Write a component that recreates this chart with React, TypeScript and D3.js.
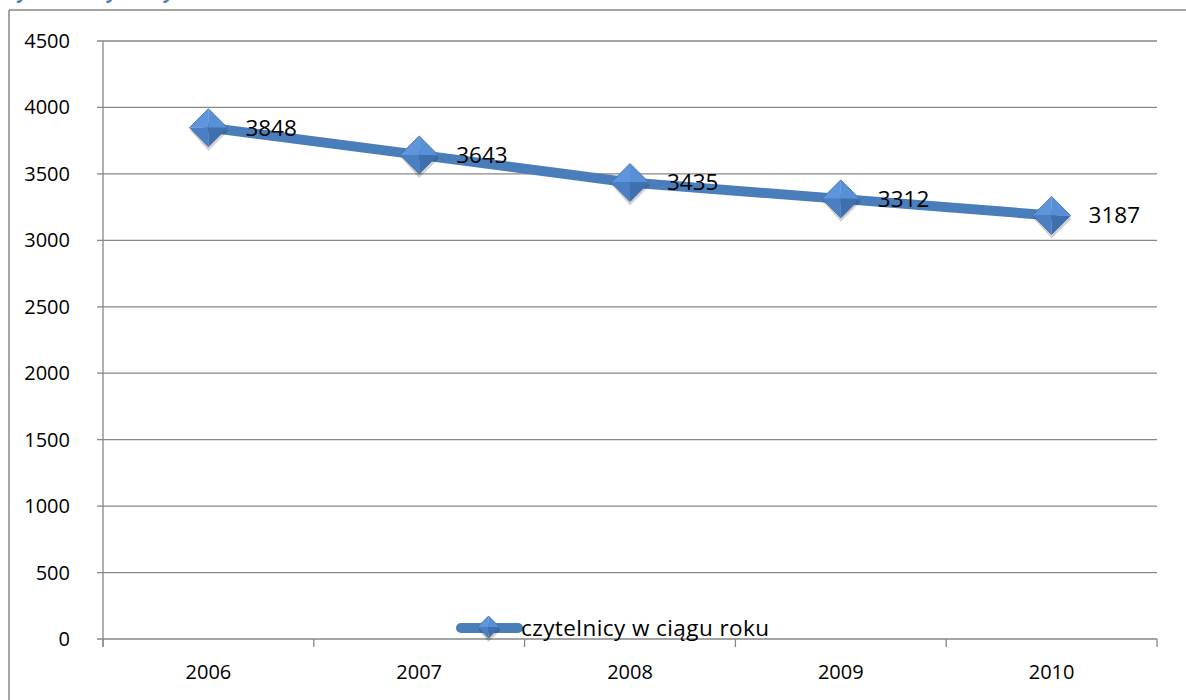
import React from "react";
import * as d3 from "d3";

const years = ["2006", "2007", "2008", "2009", "2010"];
const readers = [3848, 3643, 3435, 3312, 3187];
const yTicks = [0, 500, 1000, 1500, 2000, 2500, 3000, 3500, 4000, 4500];
const seriesName = "czytelnicy w ciągu roku";
const titleText = "Wykres 1. Czytelnicy biblioteki w latach 2006 – 2010";

const W = 1186;
const H = 700;
const plot = { left: 103, right: 1157, top: 41, bottom: 639 };
const FONT = "'Open Sans', 'Noto Sans', sans-serif";
const GRID = "#878787";
const LINE = "#4a7ebb";

function Diamond({ cx, cy, r }: { cx: number; cy: number; r: number }) {
  const T = [cx, cy - r], B = [cx, cy + r], L = [cx - r, cy], R = [cx + r, cy], C = [cx, cy];
  const p = (pts: number[][]) => pts.map((q) => q.join(",")).join(" ");
  return (
    <g>
      <polygon points={p([[cx, cy - r + 3], [cx + r + 1, cy + 3], [cx, cy + r + 4], [cx - r + 1, cy + 3]])} fill="#000" opacity={0.18} />
      <polygon points={p([T, C, L])} fill="#5f95dd" />
      <polygon points={p([T, R, C])} fill="#5890d8" />
      <polygon points={p([L, C, B])} fill="#4a7fc4" />
      <polygon points={p([C, R, B])} fill="#3f6fae" />
      <polygon points={p([T, R, B, L])} fill="none" stroke="#3a68a6" strokeWidth={0.8} />
    </g>
  );
}

export default function App() {
  const x = d3.scaleBand<string>().domain(years).range([plot.left, plot.right]).padding(0);
  const y = d3.scaleLinear().domain([0, 4500]).range([plot.bottom, plot.top]);
  const cx = (d: string) => (x(d) as number) + x.bandwidth() / 2;
  const pts = years.map((yr, i) => [cx(yr), y(readers[i])] as [number, number]);
  const line = d3.line<[number, number]>()(pts) as string;
  const bounds = years.map((yr) => x(yr) as number).concat([plot.right]);

  const legX1 = 461, legX2 = 518, legY = 628;

  return (
    <svg width={W} height={H} style={{ position: "absolute", left: 0, top: 0, background: "#fff" }}>
      <rect x={0} y={0} width={W} height={H} fill="#fff" />
      <text x={2} y={-1} fontFamily={FONT} fontSize={18} fontWeight="bold" fontStyle="italic" fill="#4f81bd">
        {titleText}
      </text>
      {/* chart border */}
      <line x1={9} y1={10} x2={W + 5} y2={10} stroke={GRID} strokeWidth={1.5} />
      <line x1={9} y1={10} x2={9} y2={H + 5} stroke={GRID} strokeWidth={1.5} />

      {/* gridlines & y ticks */}
      {yTicks.map((t) => (
        <g key={t}>
          <line x1={plot.left - 6} x2={plot.right} y1={y(t)} y2={y(t)} stroke={GRID} strokeWidth={1.3} />
          <text x={plot.left - 33} y={y(t)} dy="0.35em" textAnchor="end" fontFamily={FONT} fontSize={20} fill="#000">
            {t}
          </text>
        </g>
      ))}
      {/* y axis */}
      <line x1={plot.left} x2={plot.left} y1={plot.top} y2={plot.bottom + 8} stroke={GRID} strokeWidth={1.3} />
      {/* x ticks */}
      {bounds.map((b, i) => (
        <line key={i} x1={b} x2={b} y1={plot.bottom} y2={plot.bottom + 8} stroke={GRID} strokeWidth={1.3} />
      ))}
      {years.map((yr) => (
        <text key={yr} x={cx(yr)} y={plot.bottom + 33} dy="0.35em" textAnchor="middle" fontFamily={FONT} fontSize={20} fill="#000">
          {yr}
        </text>
      ))}

      {/* series */}
      <path d={line} fill="none" stroke={LINE} strokeWidth={10} strokeLinejoin="round" strokeLinecap="round" />
      {pts.map(([px, py], i) => (
        <Diamond key={i} cx={px} cy={py} r={19} />
      ))}
      {pts.map(([px, py], i) => (
        <text key={"l" + i} x={px + 37} y={py} dy="0.35em" fontFamily={FONT} fontSize={22.5} fill="#000">
          {readers[i]}
        </text>
      ))}

      {/* legend */}
      <line x1={legX1} x2={legX2} y1={legY} y2={legY} stroke={LINE} strokeWidth={10} strokeLinecap="round" />
      <Diamond cx={(legX1 + legX2) / 2 - 1} cy={legY - 1} r={11} />
      <text x={legX2 + 3} y={legY} dy="0.35em" fontFamily={FONT} fontSize={22.5} fill="#000" textLength={248} lengthAdjust="spacing">
        {seriesName}
      </text>
    </svg>
  );
}
